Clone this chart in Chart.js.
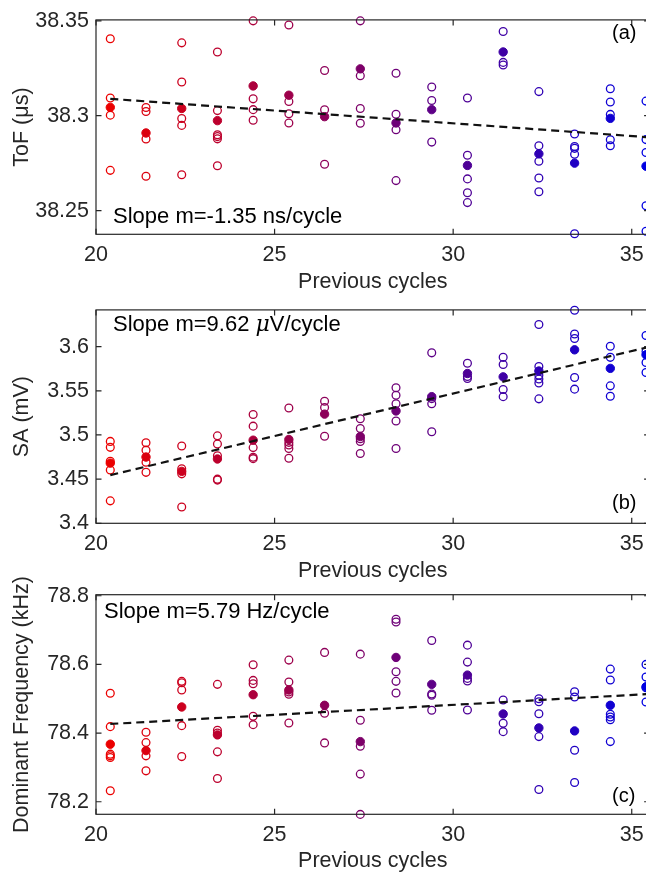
<!DOCTYPE html>
<html><head><meta charset="utf-8">
<script src="https://cdn.jsdelivr.net/npm/chart.js@4.4.0/dist/chart.umd.min.js"></script>
<style>
html,body{margin:0;padding:0;background:#fff;}
#wrap{position:relative;width:646px;height:875px;overflow:hidden;background:#fff;}
canvas{position:absolute;left:0;}
</style></head><body>
<div id="wrap">
<canvas id="cA" width="700" height="300" style="top:0px"></canvas>
<canvas id="cB" width="700" height="300" style="top:290px"></canvas>
<canvas id="cC" width="700" height="305" style="top:570px"></canvas>
</div>
<script>
// ---------- data ----------
const cycles = [20.4,21.4,22.4,23.4,24.4,25.4,26.4,27.4,28.4,29.4,30.4,31.4,32.4,33.4,34.4,35.4];
const xTicks = [20,25,30,35];
const xTitle = 'Previous cycles';

// (a) time of flight, µs
const tofRuns = [
  [38.3406,38.3093,38.3003,38.2712],
  [38.3043,38.3022,38.2877,38.2681],
  [38.3384,38.3178,38.2985,38.2949,38.2689],
  [38.3336,38.3027,38.2900,38.2890,38.2878,38.2736],
  [38.3500,38.3089,38.3032,38.2976],
  [38.3478,38.3075,38.3010,38.2962],
  [38.3238,38.3031,38.2744],
  [38.3500,38.3211,38.3038,38.2960],
  [38.3224,38.3008,38.2926,38.2658],
  [38.3151,38.3080,38.2861],
  [38.3093,38.2792,38.2667,38.2594,38.2542],
  [38.3444,38.3281,38.3267],
  [38.3127,38.2842,38.2760,38.2672,38.2599],
  [38.2904,38.2838,38.2828,38.2797,38.2378],
  [38.3142,38.3072,38.3007,38.2873,38.2842],
  [38.3077,38.2874,38.2806,38.2525,38.2391]
];
const tofMeans = [38.3044,38.2909,38.3038,38.2974,38.3157,38.3108,38.2995,38.3247,38.2962,38.3032,38.2738,38.3336,38.2799,38.2750,38.2986,38.2734];
const tofFitX = [20.4,35.5];
const tofFitY = [38.3089,38.2886];
const tofTicks = [38.25,38.3,38.35];
const tofTickLabels = ['38.25','38.3','38.35'];
const tofTitle = 'ToF (\u03BCs)';
const tofNote = 'Slope m=-1.35 ns/cycle';

// (b) signal amplitude, mV
const saRuns = [
  [3.4927,3.4860,3.4703,3.4604,3.4254],
  [3.4912,3.4828,3.4692,3.4577],
  [3.4875,3.4618,3.4560,3.4185],
  [3.4990,3.4897,3.4765,3.4500,3.4489],
  [3.5232,3.5100,3.4857,3.4747,3.4732],
  [3.5305,3.4916,3.4886,3.4846,3.4736],
  [3.5382,3.5310,3.4985],
  [3.5184,3.5074,3.4957,3.4927,3.4791],
  [3.5534,3.5449,3.5354,3.5158,3.4846],
  [3.5930,3.5412,3.5354,3.5037],
  [3.5812,3.5662,3.5640],
  [3.5879,3.5798,3.5515,3.5434],
  [3.6250,3.5776,3.5677,3.5633,3.5589,3.5409],
  [3.6412,3.6143,3.6093,3.5651,3.5519],
  [3.6004,3.5879,3.5556,3.5438],
  [3.6126,3.5945,3.5820,3.5707]
];
const saMeans = [3.4681,3.4750,3.4588,3.4728,3.4941,3.4949,3.5236,3.4982,3.5272,3.5434,3.5696,3.5658,3.5724,3.5964,3.5754,3.5908];
const saFitX = [20.4,35.5];
const saFitY = [3.4546,3.5998];
const saTicks = [3.4,3.45,3.5,3.55,3.6];
const saTickLabels = ['3.4','3.45','3.5','3.55','3.6'];
const saTitle = 'SA (mV)';
const saNote = ['Slope m=9.62 ', '\u03BC', 'V/cycle'];

// (c) dominant frequency, kHz
const freqRuns = [
  [78.5158,78.4188,78.3386,78.3337,78.3287,78.2320],
  [78.4025,78.3723,78.3337,78.2901],
  [78.5506,78.5466,78.5254,78.4217,78.3316],
  [78.5419,78.4083,78.4000,78.3453,78.2677],
  [78.5988,78.5535,78.5437,78.4490,78.4246],
  [78.6125,78.5486,78.5196,78.5129,78.4295],
  [78.6349,78.4577,78.3714],
  [78.6299,78.4374,78.3618,78.2805,78.1632],
  [78.7316,78.7237,78.5785,78.5506,78.5166],
  [78.6697,78.5137,78.5100,78.4664],
  [78.6561,78.6067,78.5593,78.5515,78.4673],
  [78.4963,78.4286,78.4042],
  [78.5001,78.4914,78.4565,78.3897,78.2358],
  [78.5204,78.5050,78.3502,78.2561],
  [78.5863,78.5544,78.4548,78.4469,78.4391,78.3752],
  [78.6000,78.5631,78.5320,78.4905]
];
const freqMeans = [78.3676,78.3490,78.4760,78.3947,78.5117,78.5254,78.4809,78.3752,78.6203,78.5419,78.5689,78.4556,78.4150,78.4063,78.4809,78.5349];
const freqFitX = [20.4,35.5];
const freqFitY = [78.4266,78.5140];
const freqTicks = [78.2,78.4,78.6,78.8];
const freqTickLabels = ['78.2','78.4','78.6','78.8'];
const freqTitle = 'Dominant Frequency (kHz)';
const freqNote = 'Slope m=5.79 Hz/cycle';

const panelLabels = ['(a)','(b)','(c)'];

// ---------- styling ----------
const FONT = "'Liberation Sans', Arial, Helvetica, sans-serif";
const AXIS = '#262626';
function colorAt(i){
  const t = i/(cycles.length-1);
  return 'rgb(' + Math.round(235*(1-t)) + ',0,' + Math.round(225*t) + ')';
}

const framePlugin = {
  id: 'frame',
  afterDraw(chart, args, opts){
    const {ctx, chartArea:a, scales:{x, y}} = chart;
    ctx.save();
    ctx.strokeStyle = AXIS;
    ctx.lineWidth = 1.2;
    ctx.strokeRect(a.left, a.top, a.right-a.left, a.bottom-a.top);
    const L = 5.5;
    ctx.beginPath();
    x.ticks.forEach(t => {
      const px = x.getPixelForValue(t.value);
      ctx.moveTo(px, a.bottom); ctx.lineTo(px, a.bottom-L);
      ctx.moveTo(px, a.top); ctx.lineTo(px, a.top+L);
    });
    y.ticks.forEach(t => {
      const py = y.getPixelForValue(t.value);
      ctx.moveTo(a.left, py); ctx.lineTo(a.left+L, py);
      ctx.moveTo(a.right, py); ctx.lineTo(a.right-L, py);
    });
    ctx.stroke();
    ctx.fillStyle = '#000';
    ctx.textBaseline = 'middle';
    (opts.notes || []).forEach(n => {
      let cx = n.x;
      n.segs.forEach(s => {
        ctx.font = (s.italic ? 'italic ' : '') + n.size + 'px ' + (s.italic ? "'DejaVu Serif', serif" : FONT);
        ctx.fillText(s.text, cx, n.y);
        cx += ctx.measureText(s.text).width;
      });
    });
    ctx.restore();
  }
};

function makePanel(id, p){
  const openPts = [], openCols = [], meanPts = [], meanCols = [];
  cycles.forEach((c, i) => {
    const col = colorAt(i);
    p.runs[i].forEach(v => { openPts.push({x:c, y:v}); openCols.push(col); });
    meanPts.push({x:c, y:p.means[i]}); meanCols.push(col);
  });
  const fit = p.fitX.map((x, i) => ({x, y:p.fitY[i]}));
  const tickFont = {family:FONT, size:21.5};
  new Chart(document.getElementById(id), {
    type: 'scatter',
    data: { datasets: [
      {type:'line', data:fit, borderColor:'#111', borderWidth:2.2, borderDash:[8,5], pointRadius:0, fill:false, order:0},
      {data:meanPts, pointBackgroundColor:meanCols, pointBorderColor:meanCols, pointRadius:4.2, pointBorderWidth:1, order:1, clip:false},
      {data:openPts, pointBackgroundColor:'rgba(0,0,0,0)', pointBorderColor:openCols, pointRadius:3.9, pointBorderWidth:1.3, order:2, clip:false}
    ]},
    options: {
      responsive:false, animation:false, events:[],
      layout:{ autoPadding:false, padding:{left:0, top:p.padTop, right:700-649.6, bottom:0} },
      plugins:{ legend:{display:false}, tooltip:{enabled:false}, frame:{notes:p.notes} },
      scales:{
        x:{ type:'linear', min:20, max:35.5,
            grid:{display:false, drawTicks:false}, border:{display:false},
            afterBuildTicks: s => { s.ticks = xTicks.map(v => ({value:v})); },
            ticks:{ padding:8, color:AXIS, font:tickFont, maxRotation:0, autoSkip:false, callback:v => String(v) },
            title:{ display:true, text:xTitle, color:AXIS, font:tickFont, padding:{top:0, bottom:p.xTitlePad} },
            afterFit: s => { s.height = p.xAxisH; } },
        y:{ type:'linear', min:p.min, max:p.max,
            grid:{display:false, drawTicks:false}, border:{display:false},
            afterBuildTicks: s => { s.ticks = p.ticks.map(v => ({value:v})); },
            ticks:{ padding:7, color:AXIS, font:tickFont, autoSkip:false,
                    callback:v => { const k = p.ticks.findIndex(t => Math.abs(t - v) < 1e-9); return k >= 0 ? p.tickLabels[k] : ''; } },
            title:{ display:true, text:p.title, color:AXIS, font:tickFont, padding:{top:9, bottom:0} },
            afterFit: s => { s.width = 96; } }
      }
    },
    plugins:[framePlugin]
  });
}

makePanel('cA', { runs:tofRuns, means:tofMeans, fitX:tofFitX, fitY:tofFitY, min:38.2375, max:38.3505,
  ticks:tofTicks, tickLabels:tofTickLabels, title:tofTitle, padTop:14.7, xAxisH:300-234.3, xTitlePad:5.4,
  notes:[ {x:113, y:216.7, size:22, segs:[{text:tofNote}]}, {x:612, y:33.3, size:20, segs:[{text:panelLabels[0]}]} ] });

makePanel('cB', { runs:saRuns, means:saMeans, fitX:saFitX, fitY:saFitY, min:3.4, max:3.6416,
  ticks:saTicks, tickLabels:saTickLabels, title:saTitle, padTop:14.7, xAxisH:300-233.3, xTitlePad:5.7,
  notes:[ {x:113, y:35, size:22, segs:[{text:saNote[0]},{text:saNote[1], italic:true},{text:saNote[2]}]}, {x:612, y:213.3, size:20, segs:[{text:panelLabels[1]}]} ] });

makePanel('cC', { runs:freqRuns, means:freqMeans, fitX:freqFitX, fitY:freqFitY, min:78.1635, max:78.803,
  ticks:freqTicks, tickLabels:freqTickLabels, title:freqTitle, padTop:24.7, xAxisH:305-244.3, xTitlePad:0.7,
  notes:[ {x:104, y:41.7, size:22, segs:[{text:freqNote}]}, {x:612, y:226.7, size:20, segs:[{text:panelLabels[2]}]} ] });
</script>
</body></html>
